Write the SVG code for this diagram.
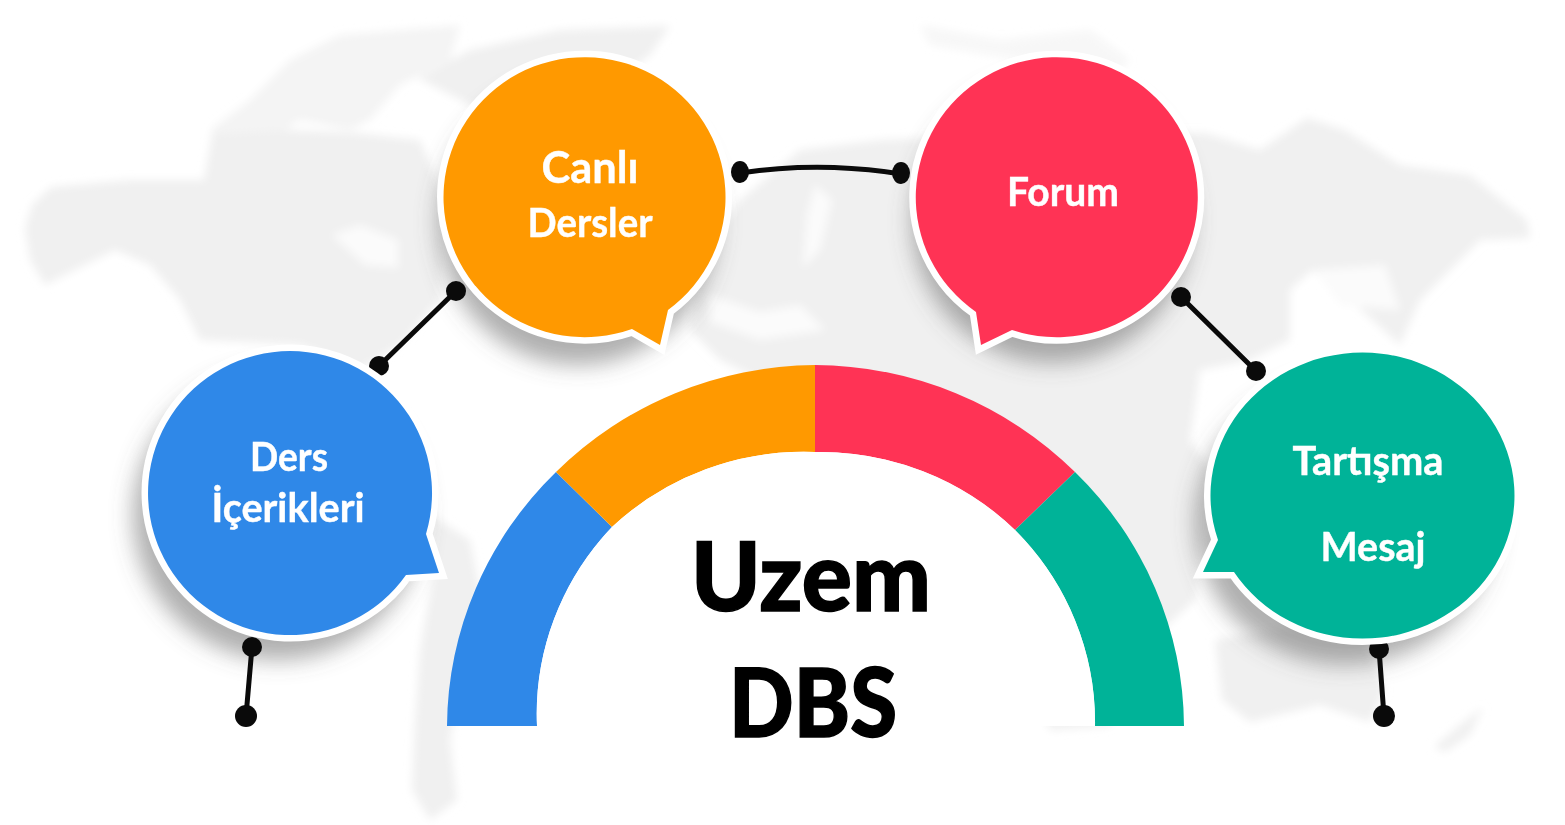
<svg xmlns="http://www.w3.org/2000/svg" width="1565" height="825" viewBox="0 0 1565 825">
<style>
.land{fill:#f0f0f0}
.sea{fill:#fbfbfb}
.shadow{fill:#5f5f5f;opacity:.5}
.bubble{stroke:#ffffff;stroke-width:13;stroke-linejoin:miter;paint-order:stroke}
.label{font-family:"Lato","Carlito","Liberation Sans",sans-serif;font-weight:700;fill:#ffffff;stroke:#ffffff;stroke-width:.4;text-anchor:middle}
.title{font-family:"Lato","Carlito","Liberation Sans",sans-serif;font-weight:900;fill:#000000;stroke:#000000;stroke-width:1.5;text-anchor:middle}
.link{fill:none;stroke:#0a0a0a;stroke-width:5;stroke-linecap:round}
.dot{fill:#0a0a0a}
</style>
<defs>
<filter id="soft" x="-5%" y="-5%" width="110%" height="110%"><feGaussianBlur stdDeviation="4"/></filter>
<filter id="blur" x="-30%" y="-30%" width="160%" height="160%"><feGaussianBlur stdDeviation="11"/></filter>
</defs>
<rect width="1565" height="825" fill="#ffffff"/>
<g id="map" filter="url(#soft)">
<path class="land" opacity=".7" d="M210,130L250,100L290,60L340,35L400,30L460,25L450,60L400,85L370,120L350,130L300,120L270,140L225,150Z"/>
<path class="land" d="M418,78L470,50L560,30L670,26L650,55L610,85L570,110L520,125L470,105Z"/>
<path class="land" d="M25,228L32,205L51,187L130,180L204,180L212,134L290,130L357,133L420,140L445,200L440,300L400,345L360,370L300,345L200,340L180,300L150,265L115,250L85,265L45,285L30,260Z"/>
<path class="sea" d="M332,235L360,225L398,240L398,268L365,265Z"/>
<path class="land" d="M431,515L470,540L480,590L465,650L450,740L457,800L430,820L412,790L415,720L420,650L432,580Z"/>
<path class="land" d="M800,150L880,140L1000,135L1205,133L1260,150L1307,118L1345,130L1400,165L1470,175L1527,220L1530,238L1480,240L1450,270L1420,300L1400,345L1350,300L1312,270L1290,290L1290,340L1250,360L1200,370L1190,440L1210,470L1195,600L1140,650L1110,726L1050,730L1000,600L950,500L800,400L720,360L690,330L700,260L740,200Z"/>
<path class="sea" d="M815,185L832,200L820,250L803,268L807,215Z"/>
<path class="sea" d="M710,295L760,312L800,305L825,330L760,340L710,322Z"/>
<path class="sea" d="M1315,270L1385,265L1400,310L1340,305Z"/>
<path class="land" d="M1215,640L1300,625L1360,630L1385,690L1370,722L1320,705L1250,722L1222,700Z"/>
<path class="land" d="M1434,747L1460,725L1483,707L1470,735L1445,752Z"/>
<path class="land" opacity=".5" d="M920,25L1000,40L1090,30L1130,60L1100,90L1020,60L930,45Z"/>
</g>
<g id="shadows" filter="url(#blur)">
<ellipse class="shadow" cx="278" cy="515" rx="145" ry="145"/>
<ellipse class="shadow" cx="578" cy="222" rx="140" ry="143"/>
<ellipse class="shadow" cx="1052" cy="220" rx="140" ry="143"/>
<ellipse class="shadow" cx="1345" cy="522" rx="150" ry="143"/>
</g>
<g id="connectors">
<path class="link" d="M740,173Q820,161 901,174"/>
<path class="link" d="M456,291L379,366"/>
<path class="link" d="M1181,297L1256,371"/>
<path class="link" d="M252,647L246,716"/>
<path class="link" d="M1379,649L1384,716"/>
<ellipse class="dot" cx="740" cy="172" rx="9" ry="11"/>
<ellipse class="dot" cx="901" cy="173" rx="9" ry="11"/>
<circle class="dot" cx="456" cy="291" r="10"/>
<circle class="dot" cx="379" cy="366" r="10"/>
<circle class="dot" cx="1181" cy="297" r="10"/>
<circle class="dot" cx="1256" cy="371" r="10"/>
<circle class="dot" cx="252" cy="647" r="10"/>
<circle class="dot" cx="246" cy="716" r="11"/>
<circle class="dot" cx="1379" cy="649" r="10"/>
<circle class="dot" cx="1384" cy="716" r="11"/>
</g>
<g id="gauge">
<path id="seg-blue" fill="#2f88e8" d="M447,726A369,361 0 0 1 556,472L612,527A279,274 0 0 0 537,726Z"/>
<path id="seg-orange" fill="#ff9900" d="M556,472A369,361 0 0 1 815,365L815,452A279,274 0 0 0 612,527Z"/>
<path id="seg-red" fill="#ff3355" d="M815,365A369,361 0 0 1 1075,472L1015,530A279,274 0 0 0 815,452Z"/>
<path id="seg-teal" fill="#00b398" d="M1075,472A369,361 0 0 1 1184,726L1095,726A279,274 0 0 0 1015,530Z"/>
<path id="hub" fill="#ffffff" d="M537,726A279,274 0 0 1 612,527A279,274 0 0 1 815,452A279,274 0 0 1 1015,530A279,274 0 0 1 1095,726Z"/>
<text class="title" x="811" y="611" font-size="96" textLength="240" lengthAdjust="spacingAndGlyphs">Uzem</text>
<text class="title" x="813" y="737" font-size="96" textLength="168" lengthAdjust="spacingAndGlyphs">DBS</text>
</g>
<g id="node-ders">
<path class="bubble" fill="#2f88e8" d="M426,534L439,573L406,575A142,142 0 1 1 426,534Z"/>
<text class="label" x="289" y="471" font-size="40" textLength="78" lengthAdjust="spacingAndGlyphs">Ders</text>
<text class="label" x="288" y="522" font-size="40" textLength="153" lengthAdjust="spacingAndGlyphs">İçerikleri</text>
</g>
<g id="node-canli">
<path class="bubble" fill="#ff9900" d="M668,310L660,345L632,329A141,140 0 1 1 668,310Z"/>
<text class="label" x="590" y="183" font-size="43" textLength="97" lengthAdjust="spacingAndGlyphs">Canlı</text>
<text class="label" x="590" y="237" font-size="40" textLength="125" lengthAdjust="spacingAndGlyphs">Dersler</text>
</g>
<g id="node-forum">
<path class="bubble" fill="#ff3355" d="M976,312L981,345L1012,330A141,140 0 1 0 976,312Z"/>
<text class="label" x="1063" y="206" font-size="40" textLength="112" lengthAdjust="spacingAndGlyphs">Forum</text>
</g>
<g id="node-tartisma">
<path class="bubble" fill="#00b398" d="M1218,540L1203,572L1234,572A152,143 0 1 0 1218,540Z"/>
<text class="label" x="1368" y="475" font-size="40" textLength="151" lengthAdjust="spacingAndGlyphs">Tartışma</text>
<text class="label" x="1373" y="561" font-size="40" textLength="105" lengthAdjust="spacingAndGlyphs">Mesaj</text>
</g>
</svg>
